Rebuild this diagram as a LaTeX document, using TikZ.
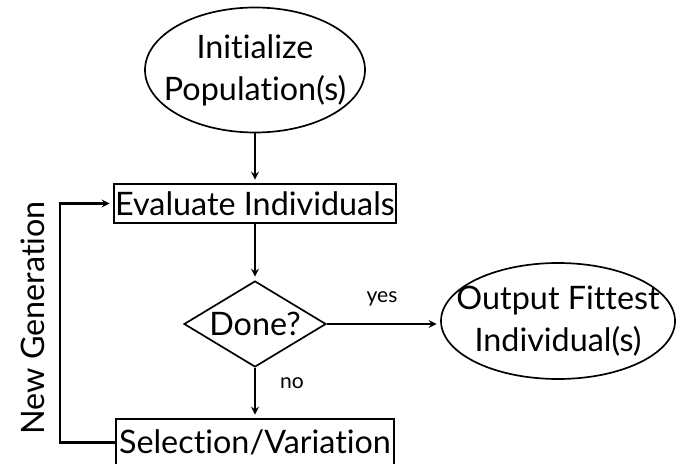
\documentclass[tikz,border=0pt]{standalone}
\usepackage{fontspec}
\setmainfont{Lato}[Ligatures=NoCommon]
\usetikzlibrary{shapes.geometric, arrows}
\tikzstyle{startstop} = [draw, ellipse, line width=1.2pt, minimum width=5.5cm, minimum height=3.125cm]
\tikzstyle{process} = [draw, rectangle, line width=1.2pt, minimum width=7.05cm, minimum height=0.975cm, inner sep=0pt]
\tikzstyle{decision} = [draw, diamond, line width=1.2pt, minimum width=3.55cm, minimum height=2.15cm, inner sep=0pt]
\tikzstyle{arrow} = [line width=1.5pt,->,>=stealth,shorten >=2.5pt]
\tikzstyle{small} = [font=\fontsize{15}{18}\selectfont]

\begin{document}
\begin{tikzpicture}[font=\fontsize{23}{30}\selectfont]
            \useasboundingbox (0,0) rectangle (16.9,11.575);
            \node[startstop, label={[align=center]center:Initialize\\Population(s)}] (init) at (6.375,9.825) {};
            \node[process] (eval) at (6.375,6.4875) {Evaluate Individuals};
            \node[decision, label=center:Done?] (done) at (6.375,3.475) {};
            \node[startstop, minimum width=5.85cm, minimum height=2.9cm, label={[align=center]center:Output Fittest\\Individual(s)}] (out) at (13.95,3.55) {};
            \node[process, minimum width=6.95cm, minimum height=1.175cm] (sel) at (6.375,0.5125) {Selection/Variation};
            \node[rotate=90] (newgen) at (0.825,3.625) {New Generation};
            \node[small] (yes) at (9.55,4.1) {yes};
            \node[small] (no) at (7.3,2.0) {no};
            \coordinate (looptop) at (1.5,6.4875);
            \draw[arrow] (init) -- (eval);
            \draw[arrow] (eval) -- (done);
            \draw[arrow] (done.east) -- (out.west |- done.east);
            \draw[arrow] (done) -- (sel);
            \draw[arrow] (sel.west) -| (looptop) -- (eval.west);
        \end{tikzpicture}
\end{document}
